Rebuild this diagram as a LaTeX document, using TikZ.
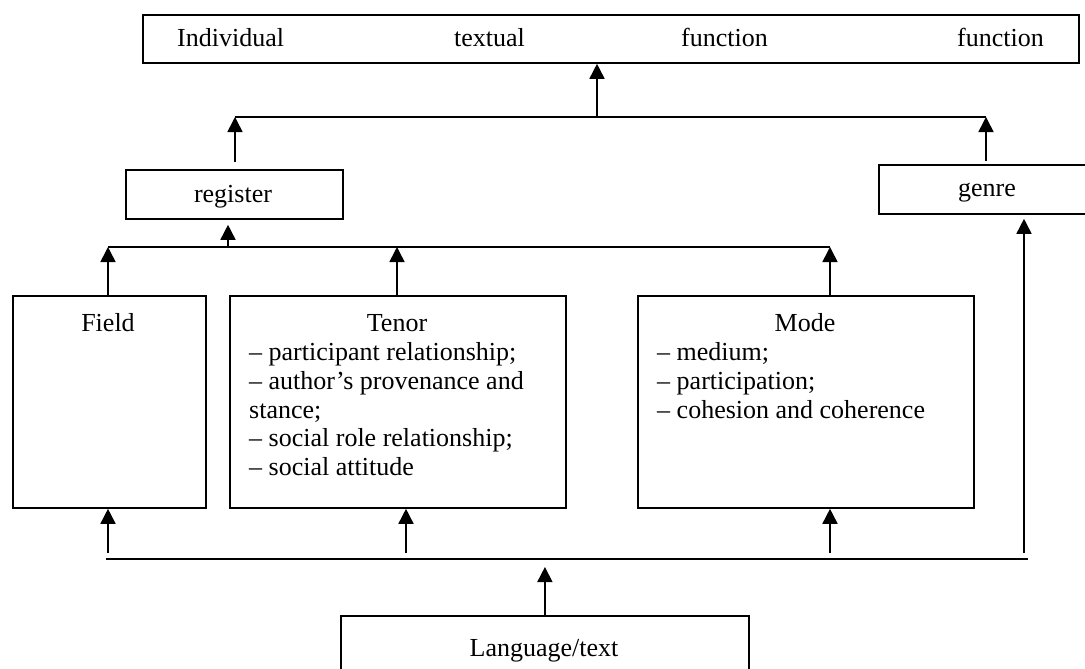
\documentclass[tikz,border=0pt]{standalone}
\usepackage{fontspec}
\setmainfont{Liberation Serif}
\usetikzlibrary{arrows.meta}
\begin{document}
\begin{tikzpicture}[x=1pt,y=-1pt,
  box/.style={draw, line width=1.8pt, fill=white, inner sep=0pt, anchor=north west},
  conn/.style={line width=1.8pt},
  arr/.style={line width=1.6pt, -{Triangle[width=15pt,length=15pt]}},
  txt/.style={inner sep=0pt, font=\fontsize{26}{28.8}\selectfont}]
\useasboundingbox (0,0) rectangle (1085,669);
\clip (0,0) rectangle (1085,669);
\fill[white] (0,0) rectangle (1085,669);

% boxes
\node[box, minimum width=936pt, minimum height=48pt] (top) at (142,14) {};
\node[box, minimum width=217pt, minimum height=49pt] (reg) at (125,169) {};
\node[box, minimum width=212pt, minimum height=49pt] (genre) at (878,164) {};
\node[box, minimum width=193pt, minimum height=212pt] (field) at (12,295) {};
\node[box, minimum width=336pt, minimum height=212pt] (tenor) at (229,295) {};
\node[box, minimum width=336pt, minimum height=212pt] (mode) at (637,295) {};
\node[box, minimum width=408pt, minimum height=70pt] (lang) at (340,615) {};

% texts
\node[txt, anchor=base west] (w1) at (177,47) {Individual};
\node[txt, anchor=base west] (w2) at (454,47) {textual};
\node[txt, anchor=base west] (w3) at (681,47) {function};
\node[txt, anchor=base west] (w4) at (957,47) {function};
\node[txt, anchor=base] (regt) at (233,202) {register};
\node[txt, anchor=base] (genret) at (987,196) {genre};
\node[txt, anchor=base] (fieldt) at (108,331) {Field};
\node[txt, anchor=base] (tenort) at (397,331) {Tenor};
\node[txt, anchor=base west] (t1) at (249,360) {– participant relationship;};
\node[txt, anchor=base west] (t2) at (249,389) {– author’s provenance and};
\node[txt, anchor=base west] (t3) at (249,418) {stance;};
\node[txt, anchor=base west] (t4) at (249,446) {– social role relationship;};
\node[txt, anchor=base west] (t5) at (249,475) {– social attitude};
\node[txt, anchor=base] (modet) at (805,331) {Mode};
\node[txt, anchor=base west] (m1) at (657,360) {– medium;};
\node[txt, anchor=base west] (m2) at (657,389) {– participation;};
\node[txt, anchor=base west] (m3) at (657,418) {– cohesion and coherence};
\node[txt, anchor=base] (langt) at (544,656) {Language/text};

% junction coordinates
\coordinate (j1l) at (235,117);
\coordinate (j1m) at (597,117);
\coordinate (j1r) at (986,117);
\coordinate (j2l) at (108,247);
\coordinate (j2m) at (228,247);
\coordinate (j2t) at (397,247);
\coordinate (j2r) at (830,247);
\coordinate (j3l) at (106,559);
\coordinate (j3r) at (1028,559);
\coordinate (b1) at (108,553);
\coordinate (b2) at (406,553);
\coordinate (b3) at (830,553);
\coordinate (b4) at (1024,553);

% top level
\draw[conn] (j1l) -- (j1r);
\draw[arr] (j1m) -- (j1m |- top.south);
\draw[arr, shorten <=7pt] (j1l |- reg.north) -- (j1l);
\draw[arr, shorten <=3pt] (j1r |- genre.north) -- (j1r);

% middle level
\draw[conn] (j2l) -- (j2r);
\draw[arr, shorten >=5pt] (j2m) -- (j2m |- reg.south);
\draw[arr] (j2l |- field.north) -- (j2l);
\draw[arr] (j2t |- tenor.north) -- (j2t);
\draw[arr] (j2r |- mode.north) -- (j2r);

% bottom level
\draw[conn] (j3l) -- (j3r);
\draw[arr] (b1) -- (b1 |- field.south);
\draw[arr] (b2) -- (b2 |- tenor.south);
\draw[arr] (b3) -- (b3 |- mode.south);
\draw[arr, shorten >=4pt] (b4) -- (b4 |- genre.south);
\draw[arr, shorten >=8pt] (lang.north) -- (lang.north |- j3l);
\end{tikzpicture}
\end{document}
